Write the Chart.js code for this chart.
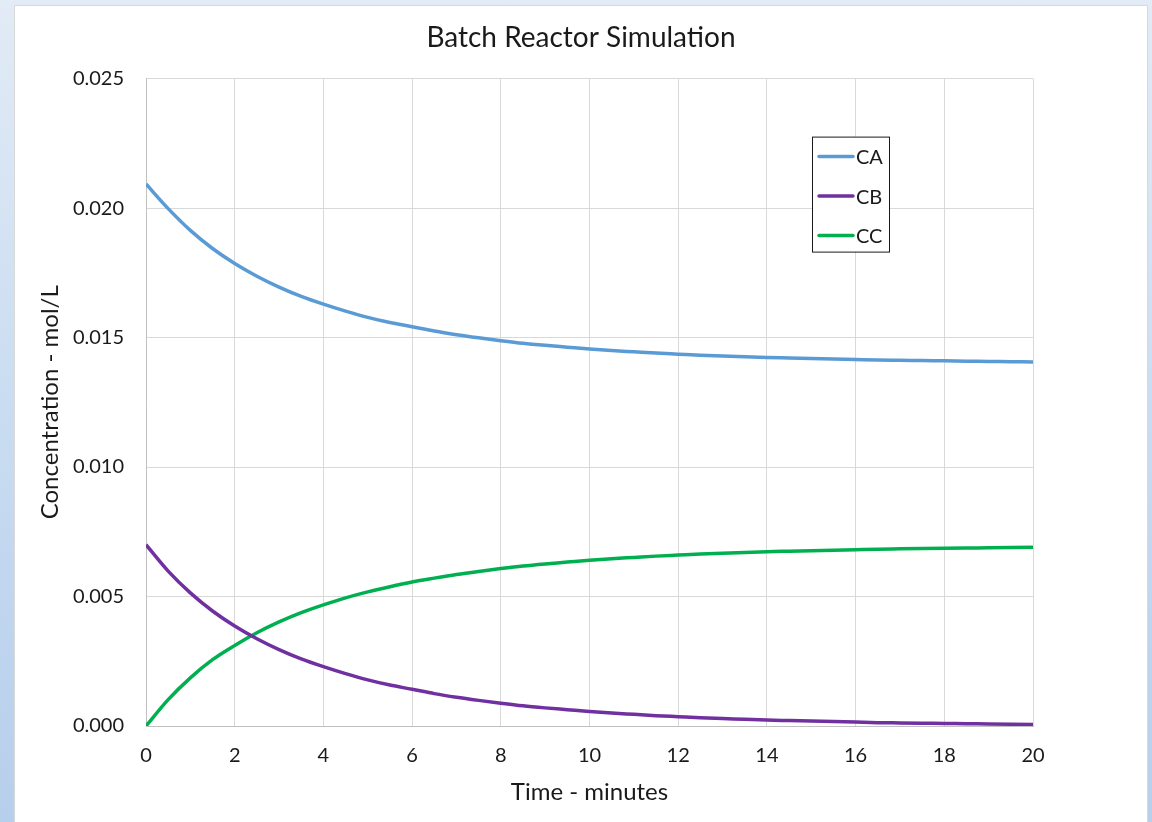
<!DOCTYPE html>
<html>
<head>
<meta charset="utf-8">
<script src="https://cdn.jsdelivr.net/npm/chart.js@4.4.1/dist/chart.umd.min.js"></script>
<style>
  html, body { margin: 0; padding: 0; }
  body {
    width: 1152px; height: 822px; overflow: hidden;
    background: linear-gradient(to bottom, #e2ebf6 0%, #c9dcf1 50%, #b6cfec 100%);
    position: relative;
  }
  #panel {
    position: absolute; left: 14px; top: 5px; width: 1132px; height: 818px;
    background: #ffffff; border: 1px solid #d9d9d9; border-bottom: none;
  }
  #wrap { position: absolute; left: 0; top: 0; width: 1132px; height: 816px; }
</style>
</head>
<body>
<div id="panel"><div id="wrap"><canvas id="c" width="1132" height="816"></canvas></div></div>
<script>
// Time (minutes)
const timeMin = [0, 0.5, 1, 1.5, 2, 2.5, 3, 3.5, 4, 4.5, 5, 5.5, 6, 6.5, 7, 7.5, 8, 8.5, 9, 9.5,
  10, 10.5, 11, 11.5, 12, 12.5, 13, 13.5, 14, 14.5, 15, 15.5, 16, 16.5, 17, 17.5, 18, 18.5, 19, 19.5, 20];
// Concentrations (mol/L)
const seriesCA = [0.02093, 0.01998, 0.01914, 0.01844, 0.01786, 0.01737, 0.01695, 0.01659, 0.01629, 0.01602,
  0.01578, 0.01558, 0.01542, 0.01525, 0.01511, 0.01499, 0.01488, 0.01478, 0.01470, 0.01463,
  0.01456, 0.01450, 0.01445, 0.01440, 0.01436, 0.01432, 0.01429, 0.01426, 0.01423, 0.01421,
  0.01419, 0.01417, 0.01415, 0.01413, 0.01412, 0.01411, 0.01410, 0.01409, 0.01408, 0.01407, 0.01406];
const seriesCB = [0.00700, 0.00598, 0.00514, 0.00444, 0.00386, 0.00337, 0.00295, 0.00259, 0.00229, 0.00202,
  0.00178, 0.00158, 0.00142, 0.00125, 0.00111, 0.00099, 0.00088, 0.00078, 0.00070, 0.00063,
  0.00056, 0.00050, 0.00045, 0.00040, 0.00036, 0.00032, 0.00029, 0.00026, 0.00023, 0.00021,
  0.00019, 0.00017, 0.00015, 0.00013, 0.00012, 0.00011, 0.00010, 0.00009, 0.00008, 0.00007, 0.00006];
const seriesCC = [0.00000, 0.00102, 0.00186, 0.00256, 0.00311, 0.00360, 0.00402, 0.00438, 0.00468, 0.00495,
  0.00518, 0.00538, 0.00556, 0.00571, 0.00585, 0.00597, 0.00608, 0.00618, 0.00626, 0.00633,
  0.00640, 0.00646, 0.00651, 0.00656, 0.00660, 0.00664, 0.00667, 0.00670, 0.00673, 0.00675,
  0.00677, 0.00679, 0.00681, 0.00683, 0.00684, 0.00685, 0.00686, 0.00687, 0.00688, 0.00689, 0.00690];
const seriesNames = ['CA', 'CB', 'CC'];
const seriesColors = ['#5b9bd5', '#7030a0', '#00b050'];
const xTickValues = [0, 2, 4, 6, 8, 10, 12, 14, 16, 18, 20];
const yTickValues = [0, 0.005, 0.010, 0.015, 0.020, 0.025];

const FONT = 'Lato, "Open Sans", sans-serif';
const TEXT = '#1a1a1a';

const allSeries = [seriesCA, seriesCB, seriesCC];
const datasets = allSeries.map((s, i) => ({
  label: seriesNames[i],
  data: timeMin.map((t, j) => ({ x: t, y: s[j] })),
  borderColor: seriesColors[i],
  backgroundColor: seriesColors[i],
  borderWidth: 3.5,
  pointRadius: 0,
  cubicInterpolationMode: 'monotone',
  fill: false
}));

const boxLegend = {
  id: 'boxLegend',
  afterDraw(chart) {
    const { ctx, chartArea } = chart;
    const bx = chartArea.left + 666, by = chartArea.top + 58, bw = 77, bh = 115;
    ctx.save();
    ctx.fillStyle = '#ffffff';
    ctx.fillRect(bx, by, bw, bh);
    ctx.strokeStyle = '#1a1a1a';
    ctx.lineWidth = 1;
    ctx.strokeRect(bx + 0.5, by + 0.5, bw, bh);
    ctx.font = '20px ' + FONT;
    ctx.textBaseline = 'middle';
    chart.data.datasets.forEach((ds, i) => {
      const y = by + 20 + i * 39.5;
      ctx.strokeStyle = ds.borderColor;
      ctx.lineWidth = 3.5;
      ctx.lineCap = 'round';
      ctx.beginPath();
      ctx.moveTo(bx + 7, y);
      ctx.lineTo(bx + 41, y);
      ctx.stroke();
      ctx.fillStyle = TEXT;
      ctx.fillText(ds.label, bx + 44, y + 1);
    });
    ctx.restore();
  }
};

new Chart(document.getElementById('c'), {
  type: 'line',
  data: { datasets },
  plugins: [boxLegend],
  options: {
    responsive: false,
    animation: false,
    layout: { padding: 0 },
    plugins: {
      legend: { display: false },
      tooltip: { enabled: false },
      title: {
        display: true,
        text: 'Batch Reactor Simulation',
        color: TEXT,
        font: { family: FONT, size: 28, weight: 'normal' },
        padding: { top: 15, bottom: 24 }
      }
    },
    scales: {
      x: {
        type: 'linear',
        min: 0, max: 20,
        afterBuildTicks(scale) { scale.ticks = xTickValues.map(v => ({ value: v })); },
        afterFit(scale) { scale.height = 96; },
        grid: { color: '#d9d9d9', lineWidth: 1, drawTicks: false },
        border: { color: '#c0c0c0', width: 1 },
        ticks: { color: TEXT, font: { family: FONT, size: 20 }, padding: 18, maxRotation: 0,
                 callback: v => String(v) },
        title: { display: true, text: 'Time - minutes', color: TEXT,
                 font: { family: FONT, size: 24 }, padding: { top: 0, bottom: 15.6 } }
      },
      y: {
        min: 0, max: 0.025,
        afterBuildTicks(scale) { scale.ticks = yTickValues.map(v => ({ value: v })); },
        afterFit(scale) { scale.width = 131; },
        grid: { color: '#d9d9d9', lineWidth: 1, drawTicks: false },
        border: { color: '#c0c0c0', width: 1 },
        ticks: { color: TEXT, font: { family: FONT, size: 20 }, padding: 22,
                 callback: v => Number(v).toFixed(3) },
        title: { display: true, text: 'Concentration - mol/L', color: TEXT,
                 font: { family: FONT, size: 24 }, padding: { top: 20.6, bottom: 0 } }
      },
      yRight: {
        position: 'right',
        display: true,
        min: 0, max: 0.025,
        afterFit(scale) { scale.width = 114; },
        grid: { display: false, drawOnChartArea: false },
        border: { display: false },
        ticks: { display: false },
        title: { display: false }
      }
    }
  }
});
</script>
</body>
</html>
